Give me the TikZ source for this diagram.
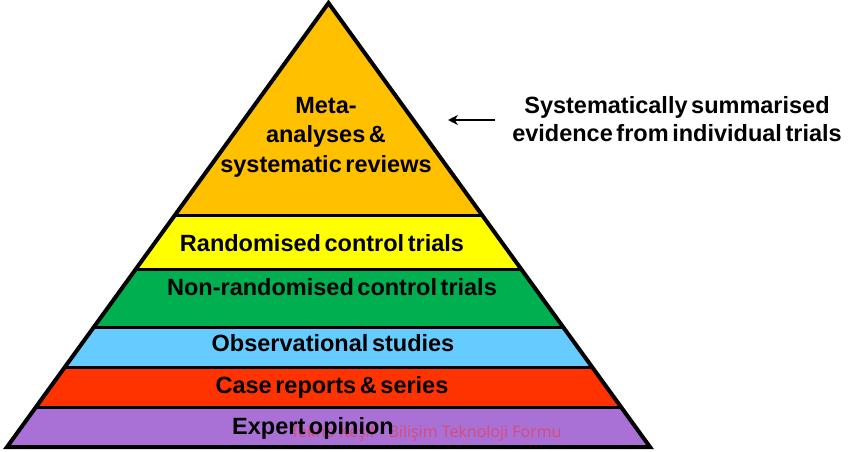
\documentclass[tikz,border=0pt]{standalone}
\usepackage{fontspec}
\setmainfont{Liberation Sans}[WordSpace=0.55]
\newfontfamily\wmfont{Open Sans}
\usetikzlibrary{arrows.meta}
\definecolor{cOrange}{HTML}{FFC000}
\definecolor{cYellow}{HTML}{FFFF00}
\definecolor{cGreen}{HTML}{00B050}
\definecolor{cBlue}{HTML}{66CCFF}
\definecolor{cRed}{HTML}{FF3300}
\definecolor{cPurple}{HTML}{A971D5}
\definecolor{cMark}{HTML}{E0466E}
\begin{document}
\begin{tikzpicture}[x=1pt,y=1pt,
  lbl/.style={font=\bfseries\fontsize{23.5}{29.5}\selectfont, align=center, inner sep=0pt},
  band/.style={line width=3pt},
  outline/.style={line width=4pt, line join=miter}]
\useasboundingbox (0,0) rectangle (850,451);
% bands
\fill[cOrange] (328.5,448) -- (482,236) -- (175,236) -- cycle;
\fill[cYellow] (175,236) -- (482,236) -- (521.1,182) -- (135.9,182) -- cycle;
\fill[cGreen] (135.9,182) -- (521.1,182) -- (563.1,124) -- (93.9,124) -- cycle;
\fill[cBlue] (93.9,124) -- (563.1,124) -- (592.1,84) -- (64.9,84) -- cycle;
\fill[cRed] (64.9,84) -- (592.1,84) -- (621,44) -- (36,44) -- cycle;
\fill[cPurple] (36,44) -- (621,44) -- (650,4) -- (7,4) -- cycle;
\draw[band] (175,236) -- (482,236);
\draw[band] (135.9,182) -- (521.1,182);
\draw[band] (93.9,124) -- (563.1,124);
\draw[band] (64.9,84) -- (592.1,84);
\draw[band] (36,44) -- (621,44);
\draw[outline] (328.5,448) -- (650,4) -- (7,4) -- cycle;
% labels
\node[lbl] (meta) at (326,314) {Meta-\\analyses \&\\systematic reviews};
\node[lbl] (rct) at (322,208) {Randomised control trials};
\node[lbl] (nrct) at (332,164) {Non-randomised control trials};
\node[lbl] (obs) at (333,108) {Observational studies};
\node[lbl] (case) at (332,64) {Case reports \& series};
\node[font=\wmfont\fontsize{16}{18}\selectfont, text=cMark, opacity=0.9, inner sep=0pt] (mark) at (426,18) {Tekno Keşif - Bilişim Teknoloji Formu};
\node[lbl] (expert) at (313,23) {Expert opinion};
% side note
\node[lbl, font=\bfseries\fontsize{23.5}{28}\selectfont] (sum) at (677,332) {Systematically summarised\\evidence from individual trials};
\coordinate (tip) at (448,331);
\draw[line width=2.5pt, -{Stealth[length=10pt,width=10pt]}] (495,331) -- (tip);
\end{tikzpicture}
\end{document}
